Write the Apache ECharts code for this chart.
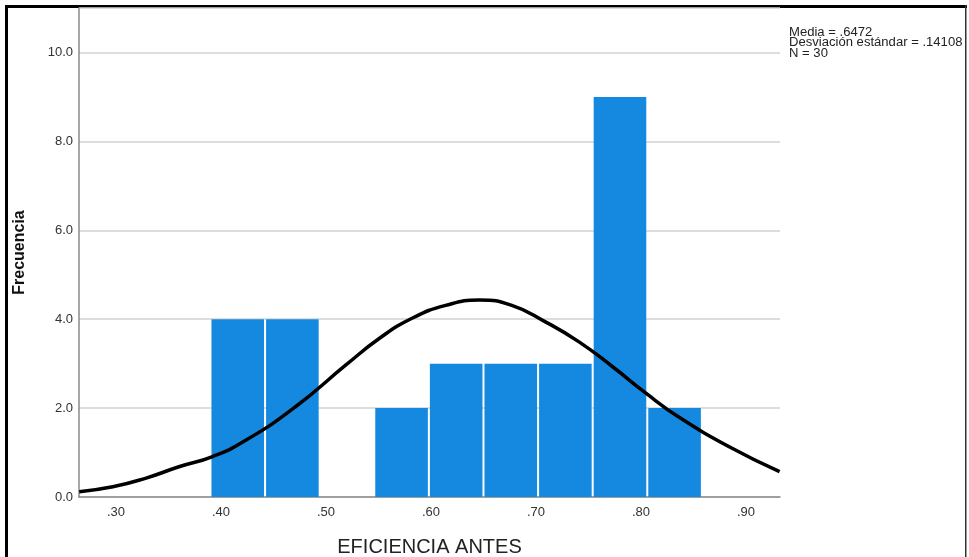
<!DOCTYPE html>
<html>
<head>
<meta charset="utf-8">
<script src="https://cdn.jsdelivr.net/npm/echarts@6/dist/echarts.min.js"></script>
<style>
  html, body { margin: 0; padding: 0; background: #fff; }
  #chart { width: 969px; height: 557px; }
</style>
</head>
<body>
<div id="chart"></div>
<script>
// Histogram bins of EFICIENCIA ANTES: lower edge, upper edge, count
const binStarts = [0.390, 0.442, 0.494, 0.546, 0.598, 0.650, 0.702, 0.754, 0.806];
const binEnds   = [0.442, 0.494, 0.546, 0.598, 0.650, 0.702, 0.754, 0.806, 0.858];
const binCounts = [4, 4, 0, 2, 3, 3, 3, 9, 2];

// Fitted normal curve, sampled along the axis
const curveX = [0.265, 0.297, 0.328, 0.360, 0.392, 0.424, 0.471, 0.519, 0.551,
                0.582, 0.614, 0.646, 0.677, 0.709, 0.741, 0.773, 0.805, 0.836,
                0.884, 0.932];
const curveY = [0.12, 0.23, 0.42, 0.68, 0.91, 1.28, 2.03, 2.97, 3.57,
                4.02, 4.31, 4.43, 4.31, 3.94, 3.49, 2.93, 2.33, 1.80,
                1.13, 0.57];

const xTicks = [0.30, 0.40, 0.50, 0.60, 0.70, 0.80, 0.90];
const yTicks = [0, 2, 4, 6, 8, 10];

const statsLines = ['Media = .6472', 'Desviación estándar = .14108', 'N = 30'];

const barData = binCounts.map((c, i) => [binStarts[i], binEnds[i], c]);
const curveData = curveX.map((x, i) => [x, curveY[i]]);

const chart = echarts.init(document.getElementById('chart'), null, { renderer: 'canvas' });

const FONT = '"Liberation Sans", Arial, sans-serif';

chart.setOption({
  backgroundColor: '#ffffff',
  animation: false,
  grid: { left: 79, right: 189, top: 8, bottom: 60, containLabel: false, outerBoundsMode: 'none' },
  xAxis: {
    type: 'value',
    min: 0.2648,
    max: 0.9324,
    name: 'EFICIENCIA ANTES',
    nameLocation: 'middle',
    nameGap: 40,
    nameTextStyle: { fontFamily: FONT, fontSize: 20, color: '#222' },
    axisLine: { show: true, lineStyle: { color: '#8a8a8a', width: 1.5 } },
    axisTick: { show: false },
    splitLine: { show: false },
    axisLabel: {
      customValues: xTicks,
      fontFamily: FONT, fontSize: 13, color: '#333', margin: 9,
      formatter: v => v.toFixed(2).replace(/^0/, '')
    }
  },
  yAxis: {
    type: 'value',
    min: 0,
    max: 11,
    interval: 2,
    name: 'Frecuencia',
    nameLocation: 'middle',
    nameGap: 51,
    nameRotate: 90,
    nameTextStyle: { fontFamily: FONT, fontSize: 16, fontWeight: 'bold', color: '#111' },
    axisLine: { show: true, lineStyle: { color: '#8a8a8a', width: 1.5 } },
    axisTick: { show: false },
    splitLine: { show: true, lineStyle: { color: '#d2d2d2', width: 1.5 } },
    axisLabel: {
      fontFamily: FONT, fontSize: 13, color: '#333', margin: 6,
      formatter: v => (yTicks.indexOf(v) >= 0 ? v.toFixed(1) : '')
    }
  },
  series: [
    {
      type: 'custom',
      data: barData,
      encode: { x: [0, 1], y: 2 },
      renderItem: function (params, api) {
        const p0 = api.coord([api.value(0), api.value(2)]);
        const p1 = api.coord([api.value(1), 0]);
        return {
          type: 'rect',
          shape: { x: p0[0] + 1, y: p0[1], width: p1[0] - p0[0] - 2, height: p1[1] - p0[1] },
          style: { fill: '#1589e0' }
        };
      },
      z: 2
    },
    {
      type: 'line',
      data: curveData,
      smooth: 0.5,
      symbol: 'none',
      lineStyle: { color: '#000', width: 3.5 },
      z: 3
    }
  ],
  graphic: [
    {
      type: 'text',
      x: 789,
      y: 27,
      style: {
        text: statsLines.join('\n'),
        font: '12px ' + FONT,
        fill: '#222',
        lineHeight: 10.5
      },
      scaleX: 1.09
    },
    { type: 'rect', shape: { x: 5, y: 5, width: 962, height: 3 }, style: { fill: '#000' } },
    { type: 'rect', shape: { x: 5, y: 5, width: 3, height: 560 }, style: { fill: '#000' } },
    { type: 'rect', shape: { x: 965, y: 5, width: 1.5, height: 560 }, style: { fill: '#333' } }
  ]
});
</script>
</body>
</html>
